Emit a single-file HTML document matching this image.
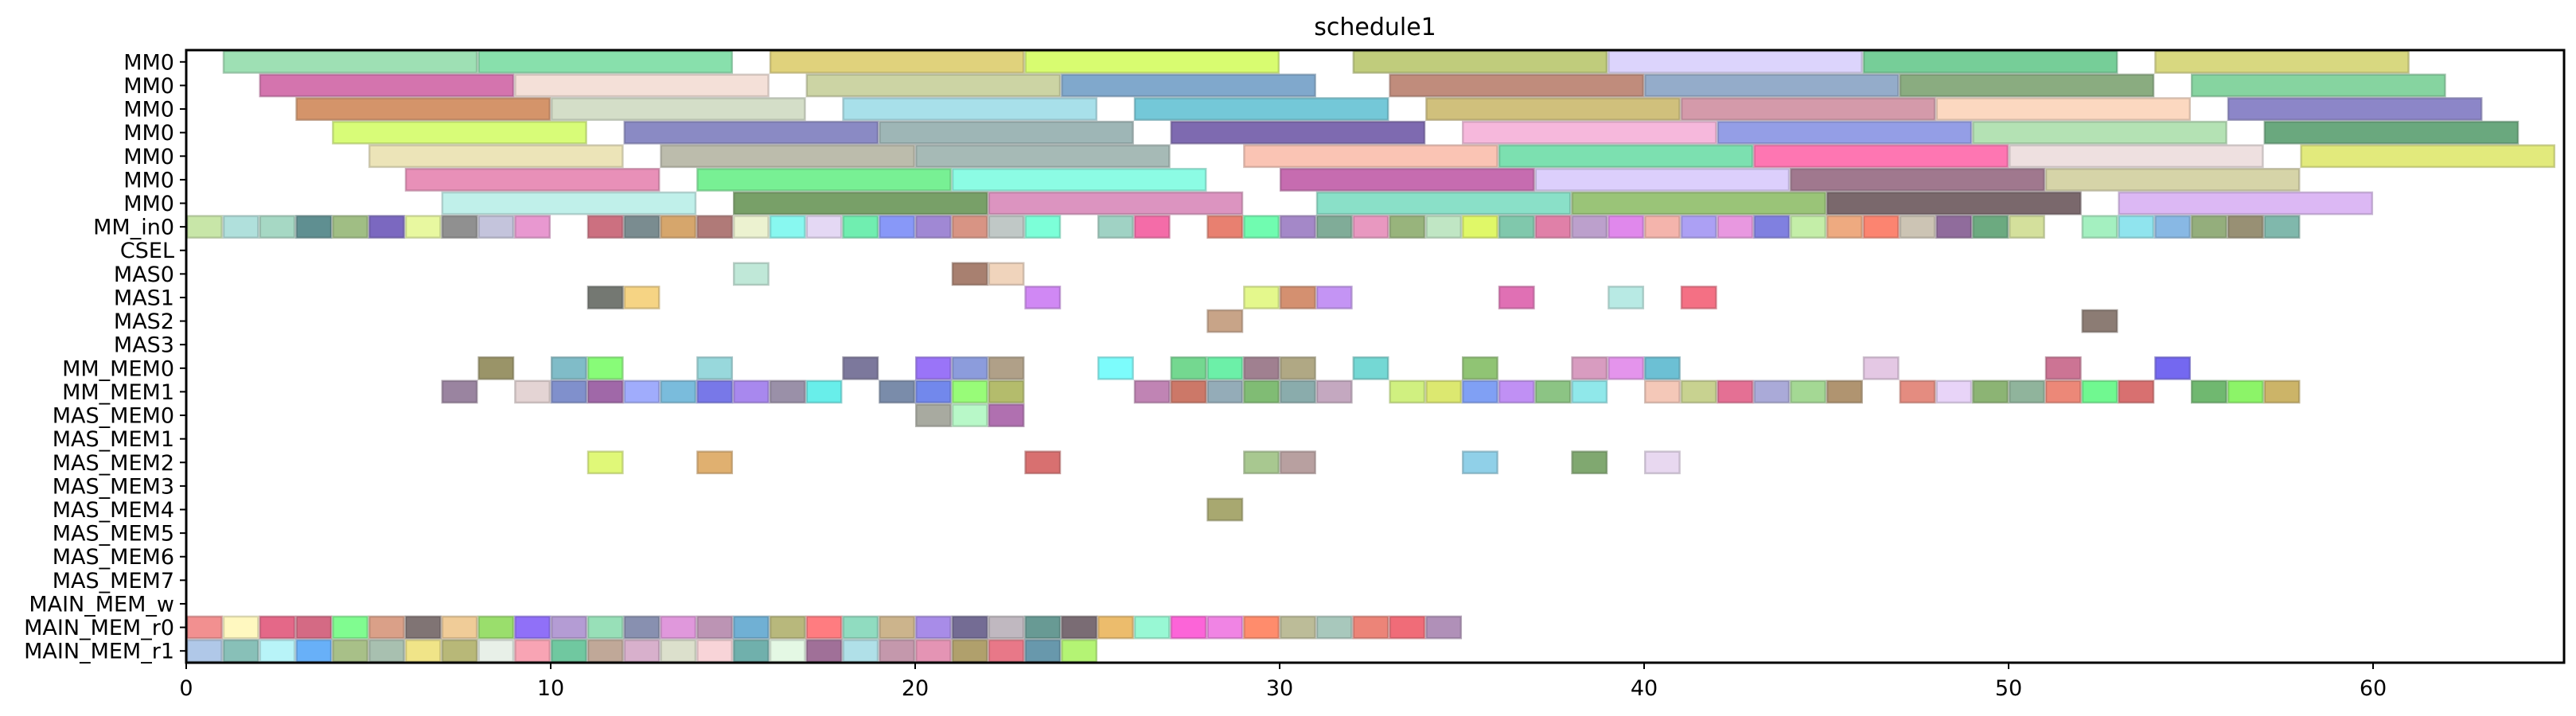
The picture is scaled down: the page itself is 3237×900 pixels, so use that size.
<!DOCTYPE html>
<html><head><meta charset="utf-8"><style>
html,body{margin:0;padding:0;background:#fff;}
svg{display:block;}
text{font-family:"DejaVu Sans","Liberation Sans",sans-serif;fill:#000;}
</style></head>
<body>
<svg id="chart" width="3237" height="900" viewBox="0 0 3237 900" xmlns="http://www.w3.org/2000/svg">
<defs><clipPath id="plotclip"><rect x="234" y="63" width="2988" height="770"/></clipPath></defs>
<text x="1728" y="44" font-size="30" text-anchor="middle">schedule1</text>
<g id="bars" clip-path="url(#plotclip)"></g>
<g id="axes"></g>
</svg>
<script>
const rowLabels = ["MM0","MM0","MM0","MM0","MM0","MM0","MM0","MM_in0","CSEL","MAS0","MAS1","MAS2","MAS3","MM_MEM0","MM_MEM1","MAS_MEM0","MAS_MEM1","MAS_MEM2","MAS_MEM3","MAS_MEM4","MAS_MEM5","MAS_MEM6","MAS_MEM7","MAIN_MEM_w","MAIN_MEM_r0","MAIN_MEM_r1"];
const xTicks = [0,10,20,30,40,50,60];
const mm0Duration = 7;
const mm0Starts = [
 [1,8,16,23,32,39,46,54],
 [2,9,17,24,33,40,47,55],
 [3,10,18,26,34,41,48,56],
 [4,12,19,27,35,42,49,57],
 [5,13,20,29,36,43,50,58],
 [6,14,21,30,37,44,51],
 [7,15,22,31,38,45,53]
];
const mm0Colors = [
 ["9ee0b4","88e0ac","e0d27c","d8fc70","c0cc7c","dcd4fc","76ce98","d8d880"],
 ["d474ae","f4e0d8","ccd4a4","80a8cc","c08c7c","94acca","8aac80","86d4a0"],
 ["d4946a","d4dec8","a8e0ea","74c8d8","d0c07c","d49aaa","fcd8c0","8c86c8"],
 ["d8fc78","8a8ac4","9eb6b6","7e6ab0","f6b8dc","949ee6","b4e2b4","6aa87e"],
 ["ece4b8","bcbcac","a6bab6","fac4b4","7ce0b0","fe76b2","eee0e0","e2ea7c"],
 ["e890b8","78f094","8cfce4","c66cb0","dccffc","a0788e","d6d4a8"],
 ["c0f0ea","78a068","dc94c0","8ae0c8","9ac478","7a686c","dcb8f4"]
];
const unitRowIndex = [7,9,10,11,13,14,15,17,19,24,25];
const unitStarts = [
 [0,1,2,3,4,5,6,7,8,9,11,12,13,14,15,16,17,18,19,20,21,22,23,25,26,28,29,30,31,32,33,34,35,36,37,38,39,40,41,42,43,44,45,46,47,48,49,50,52,53,54,55,56,57],
 [15,21,22],
 [11,12,23,29,30,31,36,39,41],
 [28,52],
 [8,10,11,14,18,20,21,22,25,27,28,29,30,32,35,38,39,40,46,51,54],
 [7,9,10,11,12,13,14,15,16,17,19,20,21,22,26,27,28,29,30,31,33,34,35,36,37,38,40,41,42,43,44,45,47,48,49,50,51,52,53,55,56,57],
 [20,21,22],
 [11,14,23,29,30,35,38,40],
 [28],
 [0,1,2,3,4,5,6,7,8,9,10,11,12,13,14,15,16,17,18,19,20,21,22,23,24,25,26,27,28,29,30,31,32,33,34],
 [0,1,2,3,4,5,6,7,8,9,10,11,12,13,14,15,16,17,18,19,20,21,22,23,24]
];
const unitColors = [
 ["c8e6a8","b0e0dc","a6d8c4","5f8f91","a0be84","7b68c0","e8f8a0","909090","c4c4dc","e898d0","cc7080","7a8c90","d6a66c","b07a78","ecf2d0","88f8f0","e4d8f4","70eeb0","8898f8","a088d4","d89484","c0c8c6","7cffd8","a0d2c4","f46ca8","e88070","70fcb0","a488c8","80ac98","e898c0","98b47c","c0e6c4","e0f868","80c8ac","e080a8","bca0cc","e088ec","f4b4ac","aca0f4","e898e0","8080e0","c4eea8","eeaa80","fc8470","ccc4b4","906c9c","6caa80","d4e09c","a4f0c0","90e4ee","88b8e4","94ae7c","989074","80b8ac"],
 ["c0e8d8","a88070","f0d4bc"],
 ["747872","f6d484","d088f4","e4f88c","d49070","c494f4","e070b4","b8eae4","f47084"],
 ["c8a488","8c7c74"],
 ["9a9468","80bcc8","88fc78","98d8dc","7c789c","9a74f8","8c9cdc","b0a088","7cfcfc","74d890","6cf0a8","a08090","b0a884","74d8d4","90c474","d89cc0","e494ec","6cc0d4","e4c8e4","cc7494","7468f0"],
 ["9a84a0","e4d4d4","8090cc","a068a8","a0acfc","7abcdc","7878e8","a888ee","9a90a8","68eeea","7a8caa","7288ec","98fc78","b4bc6c","c084b4","cc7868","94acb8","80bc74","8aacac","c4a8c0","d0f080","dce870","80a0f4","c090f4","8cc484","90e8ea","f4c8b8","c8d290","e47094","aaaad8","a4d894","b09470","e48c80","e8d4f8","8cb474","90b49c","ec8878","70f890","d87070","70b870","8cf468","ccb468"],
 ["a8aaa0","b8f8c8","b070b0"],
 ["e0f878","e0b070","d87070","a8c890","b8a0a0","90d0e8","80a870","e8d8f0"],
 ["a8a870"],
 ["f29090","fff8c0","e46888","d46a84","80fc90","daa088","807474","f0cc98","9ade6c","9070f8","b49cd4","98e0b8","8890b0","e098dc","bc94b4","70b0d4","b8b87c","ff7c80","90dcc0","ccb48c","a88ce8","746c94","c0b8c0","689a94","7a6c74","ecbc6c","98f8d4","fc64d8","f084e4","ff8c6c","bcbc98","a8c8bc","ec8478","f06c78","b090b8"],
 ["b0c8e8","88c0b8","b8f4f8","68b0f8","a8c088","a8c0b0","f0e488","b8b878","e8f0e8","f8a4b4","70c8a0","c0a898","d8b0cc","dce0cc","f8d4d8","70b0ac","e4f8e4","a07098","b0e0e8","c498ac","e494b4","b0a06c","e87888","6898ac","b4f474"]
];
const unitDuration = 1;

const NS = "http://www.w3.org/2000/svg";
const X0 = 234, X1 = 3222, Y0 = 63, Y1 = 833, XMAX = 65.24;
const rowH = (Y1 - Y0) / rowLabels.length;
function xs(u){ return X0 + u * (X1 - X0) / XMAX; }
function ys(i){ return Y0 + i * rowH; }
function darker(hex){
  const n = parseInt(hex,16);
  const r = Math.round(((n>>16)&255)*0.75), g = Math.round(((n>>8)&255)*0.75), b = Math.round((n&255)*0.75);
  return "rgb("+r+","+g+","+b+")";
}
const barsG = document.getElementById("bars");
const axesG = document.getElementById("axes");
function addBar(row, start, dur, color){
  const r = document.createElementNS(NS,"rect");
  r.setAttribute("x", xs(start)+1.2);
  r.setAttribute("y", ys(row)+1.2);
  r.setAttribute("width", xs(start+dur)-xs(start)-2.4);
  r.setAttribute("height", rowH-2.4);
  r.setAttribute("fill", "#"+color);
  r.setAttribute("stroke", darker(color));
  r.setAttribute("stroke-opacity", "0.6");
  r.setAttribute("stroke-width", "2.5");
  
  
  barsG.appendChild(r);
}
mm0Starts.forEach((starts,row)=>{
  starts.forEach((s,k)=>addBar(row, s, mm0Duration, mm0Colors[row][k]));
});
unitRowIndex.forEach((row,j)=>{
  unitStarts[j].forEach((s,k)=>addBar(row, s, unitDuration, unitColors[j][k]));
});
const frame = document.createElementNS(NS,"rect");
frame.setAttribute("x",X0); frame.setAttribute("y",Y0);
frame.setAttribute("width",X1-X0); frame.setAttribute("height",Y1-Y0);
frame.setAttribute("fill","none"); frame.setAttribute("stroke","#000"); frame.setAttribute("stroke-width","3");


axesG.appendChild(frame);
rowLabels.forEach((lab,i)=>{
  const yc = ys(i)+rowH/2;
  const t = document.createElementNS(NS,"line");
  t.setAttribute("x1",X0-8); t.setAttribute("x2",X0); t.setAttribute("y1",yc); t.setAttribute("y2",yc);
  t.setAttribute("stroke","#000"); t.setAttribute("stroke-width","2");
  
  
  axesG.appendChild(t);
  const tx = document.createElementNS(NS,"text");
  tx.setAttribute("x",X0-15); tx.setAttribute("y",yc+9.5);
  tx.setAttribute("font-size","27"); tx.setAttribute("text-anchor","end");
  tx.textContent = lab;
  
  
  axesG.appendChild(tx);
});
xTicks.forEach(v=>{
  const x = xs(v);
  const t = document.createElementNS(NS,"line");
  t.setAttribute("x1",x); t.setAttribute("x2",x); t.setAttribute("y1",Y1); t.setAttribute("y2",Y1+8);
  t.setAttribute("stroke","#000"); t.setAttribute("stroke-width","2");
  
  
  axesG.appendChild(t);
  const tx = document.createElementNS(NS,"text");
  tx.setAttribute("x",x); tx.setAttribute("y",Y1+41);
  tx.setAttribute("font-size","27"); tx.setAttribute("text-anchor","middle");
  tx.textContent = String(v);
  
  
  axesG.appendChild(tx);
});
</script>
</body></html>
